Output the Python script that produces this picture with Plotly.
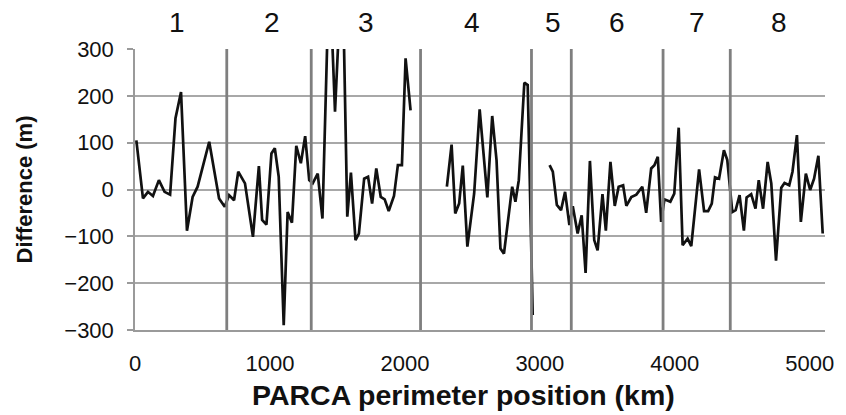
import plotly.graph_objects as go

# PARCA perimeter position (km) and difference (m); None marks gaps in the record
position_km = [
    10, 59, 96, 133, 177, 219, 260, 300, 341, 385, 427, 464, 550, 623, 665,
    697, 734, 765, 815, 874, 918, 942, 974, 1011, 1036, 1065, 1102, 1131, 1163,
    1195, 1229, 1261, 1291,
    1317, 1354, 1389, 1440, 1482, 1536, 1573, 1600, 1634, 1659, 1698, 1727, 1757,
    1788, 1821, 1850, 1880, 1919, 1948, 1978, 2005, 2042,
    2150,
    2311, 2346, 2373, 2402, 2429, 2463, 2513, 2554, 2611, 2647, 2679, 2708, 2734,
    2770, 2795, 2819, 2844, 2885, 2910, 2947,
    3000,
    3072, 3096, 3126, 3157, 3187, 3219,
    3244, 3280, 3310, 3339, 3371, 3403, 3428, 3464, 3489, 3523, 3555, 3584, 3617,
    3641, 3678, 3715, 3759, 3788, 3825, 3849, 3874, 3899,
    3923, 3967, 3996, 4029, 4058, 4095, 4122, 4180, 4217, 4247, 4274, 4298, 4328,
    4364, 4389, 4406,
    4426, 4451, 4480, 4512, 4532, 4566, 4598, 4622, 4654, 4688, 4715, 4750, 4789,
    4813, 4848, 4872, 4905, 4934, 4971, 5003, 5032, 5064, 5096,
]
difference_m = [
    105, -19, -5, -14, 20, -5, -11, 152, 208, -88, -16, 6, 102, -19, -37,
    -12, -23, 38, 13, -101, 50, -65, -75, 77, 88, 27, -290, -48, -71,
    93, 56, 114, 20,
    13, 34, -62, 480, 166, 500, -58, 36, -108, -94, 23, 27, -30,
    45, -16, -21, -46, -14, 52, 52, 280, 169,
    None,
    6, 96, -51, -30, 51, -122, -9, 171, -17, 157, 63, -126, -137,
    -48, 6, -26, 20, 228, 223, -268,
    None,
    52, 38, -33, -44, -5, -76,
    -36, -94, -55, -178, 61, -108, -130, -10, -88, 59, -35, 6, 9,
    -35, -16, -11, 6, -50, 45, 52, 70, -69,
    -21, -26, -9, 132, -119, -105, -121, 43, -46, -46, -30, 26, 23,
    84, 63, 13,
    -48, -44, -12, -88, -17, -10, -41, 20, -41, 59, 13, -152, 4,
    14, 9, 38, 116, -69, 34, -1, 23, 72, -94,
]

# Segment boundaries (km) and segment labels
boundaries_km = [680, 1306, 2116, 2938, 3233, 3913, 4411]
segment_labels = ["1", "2", "3", "4", "5", "6", "7", "8"]
segment_label_km = [310, 1013, 1714, 2494, 3097, 3568, 4166, 4771]

x_ticks = [0, 1000, 2000, 3000, 4000, 5000]
y_ticks = [-300, -200, -100, 0, 100, 200, 300]

FONT = "Liberation Sans, Arial, sans-serif"
NARROW = "Liberation Sans Narrow, Arial Narrow, Liberation Sans, Arial, sans-serif"

fig = go.Figure()
fig.add_trace(go.Scatter(
    x=position_km, y=difference_m, mode="lines",
    line=dict(color="#111111", width=2.7),
    connectgaps=False, showlegend=False,
))

for b in boundaries_km:
    fig.add_shape(type="line", xref="x", yref="y", x0=b, x1=b, y0=-300, y1=300,
                  line=dict(color="#7f7f7f", width=2.8), layer="above")

for lab, xk in zip(segment_labels, segment_label_km):
    fig.add_annotation(x=xk, xref="x", y=1, yref="paper", yshift=27,
                       text=lab, showarrow=False, yanchor="middle",
                       font=dict(family=NARROW, size=28, color="#111111"))

# x-axis title (placed slightly left of the plot centre, as in the original)
fig.add_annotation(x=0.476, xref="paper", y=-0.231, yref="paper",
                   text="<b>PARCA perimeter position (km)</b>", showarrow=False,
                   xanchor="center", yanchor="middle",
                   font=dict(family=FONT, size=28.5, color="#111111"))

# page body adds an 8px offset, so the figure is 8px smaller on each axis
fig.update_layout(
    width=838, height=407,
    margin=dict(l=127, r=16, t=41, b=85),
    paper_bgcolor="white", plot_bgcolor="white",
    font=dict(family=FONT, size=22, color="#111111"),
)
fig.update_xaxes(
    range=[0, 5113], tickvals=x_ticks, ticks="",
    showgrid=False, zeroline=False,
    showline=True, linecolor="#9a9a9a", linewidth=2,
    ticklabelstandoff=13,
    tickfont=dict(family=FONT, size=22, color="#111111"),
)
fig.update_yaxes(
    range=[-300, 300], tickvals=y_ticks,
    ticks="outside", ticklen=6, tickcolor="#9a9a9a", tickwidth=1.5,
    showgrid=True, gridcolor="#a8a8a8", gridwidth=1.5,
    zeroline=False,
    showline=True, linecolor="#9a9a9a", linewidth=1.5,
    ticklabelstandoff=9,
    tickfont=dict(family=FONT, size=22, color="#111111"),
    title=dict(text="<b>Difference (m)</b>", standoff=26,
               font=dict(family=FONT, size=22, color="#111111")),
)

fig.write_html("out.html")
